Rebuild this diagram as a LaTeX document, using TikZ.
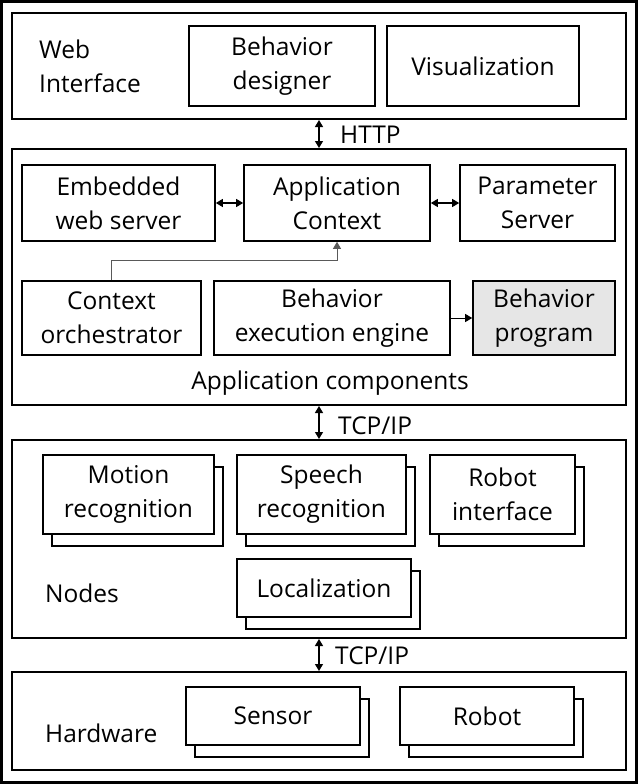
\documentclass[tikz,border=0pt]{standalone}
\usepackage{fontspec}
\setmainfont{Open Sans}
\usetikzlibrary{arrows.meta,shadows}

\definecolor{progfill}{RGB}{230,230,230}

\tikzset{
  panel/.style={draw, line width=2pt, inner sep=0pt},
  box/.style={draw, line width=1.6pt, align=center, inner sep=0pt,
    font=\fontsize{24.5}{34}\selectfont},
  stackbox/.style={box, fill=white,
    copy shadow={shadow xshift=9pt, shadow yshift=-12pt, draw=black, fill=white, line width=1.6pt}},
  tag/.style={font=\fontsize{24.5}{34}\selectfont, inner sep=0pt},
  link/.style={{Triangle[length=7pt,width=8pt]}-{Triangle[length=7pt,width=8pt]}, line width=1.2pt},
  feed/.style={-{Triangle[length=7pt,width=8pt]}, line width=1pt}
}

\begin{document}
\begin{tikzpicture}[x=1pt, y=-1pt]
\useasboundingbox (0,0) rectangle (638,784);
\draw[line width=3pt] (1.5,1.5) rectangle (636.5,782.5);
%
% web interface
\node[panel, minimum width=614pt, minimum height=106pt] (web) at (319,66) {};
\node[tag, anchor=west, align=left] at (39,66) {Web\\Interface};
\node[box, minimum width=186pt, minimum height=80pt] (designer) at (282,66) {Behavior\\designer};
\node[box, minimum width=192pt, minimum height=80pt] (visual) at (483,66) {Visualization};
%
% application components
\node[panel, minimum width=614pt, minimum height=256pt] (apps) at (319,277) {};
\node[box, minimum width=193pt, minimum height=76pt] (embedded) at (118.5,203) {Embedded\\web server};
\node[box, minimum width=186pt, minimum height=76pt] (appctx) at (337,203) {Application\\Context};
\node[box, minimum width=155pt, minimum height=76pt] (param) at (537.5,203) {Parameter\\Server};
\node[box, minimum width=179pt, minimum height=74pt] (orch) at (111.5,318) {Context\\orchestrator};
\node[box, minimum width=236pt, minimum height=74pt] (engine) at (332,318) {Behavior\\execution engine};
\node[box, fill=progfill, minimum width=142pt, minimum height=74pt] (program) at (544,318) {Behavior\\program};
\node[tag] at (330,383) {Application components};
\draw[link] (embedded) -- (appctx);
\draw[link] (appctx) -- (param);
\draw[feed] (engine) -- (program);
\draw[feed, draw=black!65, line width=.8pt] (orch.north) -- ++(0,-20) -| (appctx.south);
%
% nodes
\node[panel, minimum width=614pt, minimum height=198pt] (nodes) at (319,539) {};
\node[tag, anchor=west] at (45,593) {Nodes};
\node[stackbox, minimum width=171pt, minimum height=79pt] (motion) at (128.5,494.5) {Motion\\recognition};
\node[stackbox, minimum width=169pt, minimum height=79pt] (speech) at (321.5,494.5) {Speech\\recognition};
\node[stackbox, minimum width=145pt, minimum height=79pt] (robotif) at (502.5,494.5) {Robot\\interface};
\node[stackbox, minimum width=174pt, minimum height=58pt] (local) at (324,588) {Localization};
%
% hardware
\node[panel, minimum width=614pt, minimum height=98pt] (hw) at (319,721) {};
\node[tag, anchor=west] at (45,733) {Hardware};
\node[stackbox, minimum width=174pt, minimum height=58pt] (sensor) at (273,716) {Sensor};
\node[stackbox, minimum width=174pt, minimum height=58pt] (robot) at (487,716) {Robot};
%
\draw[link] (web) -- (apps);
\draw[link] (apps) -- (nodes);
\draw[link] (nodes) -- (hw);
\node[tag, anchor=west] at (340,135) {HTTP};
\node[tag, anchor=west] at (338,426) {TCP/IP};
\node[tag, anchor=west] at (335,656) {TCP/IP};
\end{tikzpicture}
\end{document}
